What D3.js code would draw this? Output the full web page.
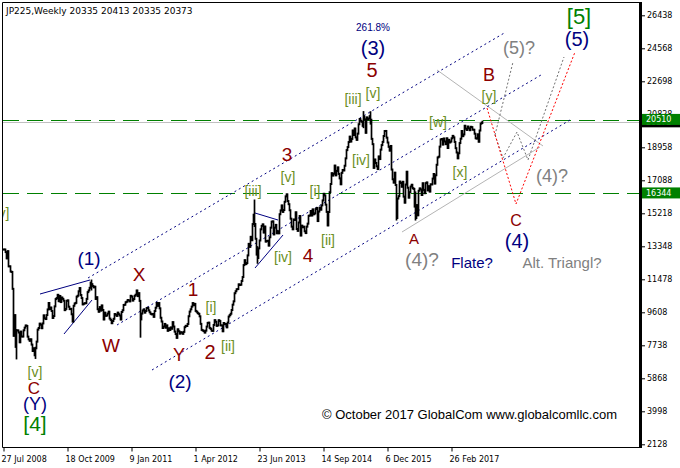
<!DOCTYPE html>
<html><head><meta charset="utf-8">
<script src="https://cdn.jsdelivr.net/npm/d3@7"></script>
<style>
html,body{margin:0;padding:0;background:#fff;}
svg{display:block;}
</style></head>
<body>
<svg id="chart" width="680" height="468"></svg>
<script>
// ---------------- DATA ----------------
const chartTitle = "JP225,Weekly  20335 20413 20335 20373";
const copyright = "\u00A9 October 2017 GlobalCom www.globalcomllc.com";
const firstWeek = "2008-07-27";
const yearStarts = ["2008-07-27","2009-01-04","2010-01-03","2011-01-02","2012-01-01","2013-01-06","2014-01-05","2015-01-04","2016-01-03","2017-01-01"];
const close2008 = [13168,13165,13020,12666,13072,12212,12214,11920,11893,10938,8276,9447,7649,8576,8583,8463,7910,8512,8236,8235,8588,8739,8860];
const close2009 = [8836,8230,8077,7994,8076,7779,7416,7568,7173,7569,7946,8627,8719,8964,8907,8707,8977,9433,9265,9225,9451,9769,10135,9786,9877,9680,9287,9396,9944,10357,10412,10597,10238,10534,10187,10444,10370,10265,9731,9800,10258,10282,9925,9789,9804,9497,9081,9977,10107,10142,10494,10546];
const close2010 = [10798,10982,10590,10414,10057,10092,10123,10126,10368,10751,10846,10996,11286,11204,11102,11023,11057,10364,10462,9784,9639,9901,9705,9995,9737,9203,9585,9408,9431,9537,9642,9253,9179,8991,9114,9239,9509,9471,9404,9588,9500,9426,9202,9625,9725,10022,10039,10178,10211,10303,10279,10229];
const close2011 = [10541,10499,10274,10360,10543,10605,10842,10526,10693,10254,9206,9536,9708,9768,9591,9683,9849,9860,9716,9607,9522,9492,9514,9351,9678,9868,10137,9974,10132,9833,9299,9086,8719,8798,8950,8737,8864,8560,8700,8606,8748,8678,9050,8801,8514,8375,8160,8643,8536,8401,8479,8455];
const close2012 = [8390,8500,8766,8841,8831,8947,9384,9647,9777,9929,10130,10011,10084,9688,9638,9561,9520,9380,8953,8612,8580,8542,8460,8569,8798,9007,9021,8724,8670,8566,8555,8891,9162,9070,8840,8871,9159,9110,8870,8863,8534,9002,8933,8946,8757,9024,9366,9446,9527,9737,10040,10230,10688];
const close2013 = [10801,10913,10926,11191,11153,11173,11385,11606,12283,12560,12338,12397,12833,13485,13316,13884,13694,14607,15138,14612,13774,12877,12686,13230,13677,14310,14506,14589,14129,14466,13615,13650,13660,13389,13860,14404,14742,14760,14024,14404,14561,14088,14201,14086,15165,15381,15662,15299,15403,15870,16178,16291];
const close2014 = [15912,15734,15391,14914,14462,14313,14865,14841,15274,14327,14224,14696,15063,13960,14516,14429,14458,14199,14097,14462,14632,15077,15097,15349,15095,15437,15164,15215,15457,15523,14778,15318,15539,15424,15668,15948,16321,16229,15708,15300,14532,15291,16413,16880,17490,17357,17459,17920,17371,17621,17818,17451];
const close2015 = [17198,16864,17511,17674,17648,17913,18332,18798,18971,19254,19560,19286,19435,19908,19653,20020,19520,19380,19733,20264,20563,20461,20407,20174,20706,20540,19780,20650,20545,20585,20724,20520,19436,19136,17793,18265,18070,17881,17725,18438,18291,18826,19083,19265,19597,19880,19884,19504,19230,18986,18770,19034];
const close2016 = [17698,17147,16958,17518,16820,14952,16054,16188,17014,16938,16724,17002,16164,15821,16848,17572,16666,16106,16412,16736,16834,16642,16601,15599,14952,15682,15106,16497,16627,16569,16254,16919,16545,16360,16925,16965,16519,16754,16449,16860,16856,17184,17446,16905,17374,17968,18381,18426,18996,19401,19427,19114];
const close2017 = [19454,19287,19138,19467,18918,19379,19235,19284,19469,19605,19522,19263,18909,18665,18335,18620,19197,19445,19883,19590,19687,20177,20013,19943,20132,20033,19929,20118,20099,19959,19952,19729,19470,19452,19691,19274,19909,20296,20356,20373];
// weeks with notable wicks beyond the close-to-close range
const wickWeeks = ["2008-10-26","2009-03-08","2010-04-04","2011-03-13","2013-05-19","2013-06-09","2015-06-21","2015-08-09","2016-02-07","2016-06-19","2017-10-01"];
const wickLows  = [6994,7021,10900,8227,14500,12415,20100,20300,14865,14864,20335];
const wickHighs = [8600,7600,11408,10000,15942,13300,20953,20946,16700,16400,20413];

const yTickValues = [26438,24568,22698,20828,18958,17088,15218,13348,11478,9608,7738,5868,3998,2128];
const xTickDates = ["2008-07-27","2009-10-18","2011-01-09","2012-04-01","2013-06-23","2014-09-14","2015-12-06","2017-02-26"];
const levelLines = [20510, 16344];
const lastPrice = 20373;

// channel lines [week, price]
const channelUpper = [[85,11552],[503,25492]];
const channelMiddle = [[114,8888],[538,23055]];
const channelLower = [[149,6338],[567,20505]];
const wedgeLines = [
  [[37,10645],[87,11438]],
  [[61,8378],[89,10305]],
  [[252,15235],[275,14838]],
  [[252,12118],[280,13988]]
];
const grayLines = [
  [[434,23339],[540,19032]],
  [[399,14158],[537,18975]]
];
const redPath = [[484,21185],[513,15745],[572,24358]];
const grayPaths = [
  [[492,19655],[510,23792]],
  [[492,19655],[500,18352],[514,19825],[525,18238],[561,24075]]
];

// labels: text, week, price, kind, size
const labelText  = ["261.8%","(3)","5","[iii]","[v]","B","[y]","(5)?","[5]","(5)","[w]","[x]","(4)?","C","(4)","A","(4)?","Flate?","Alt. Triangl?","3","[iii]","[v]","[i]","[ii]","[iv]","4","[iv]","(1)","X","W","1","[i]","Y","2","[ii]","(2)","[v]","C","(Y)","[4]","[v]"];
const labelWeek  = [370,370,369,350,370,486,486,516,576,574,435,457,549,513,514,411,419,469,559,284,250,285,312,325,280,305,358,86,136,108,190,208,176,207,225,177,32,31,32,32,-1];
const labelPrice = [25775,24585,23339,21695,22035,23055,21865,24585,26342,25095,20392,17558,17332,14838,13648,13818,12628,12458,12458,18522,16482,17275,16482,13705,12742,12855,18238,12685,11722,7755,10872,9908,7188,7358,7698,5715,6225,5318,4400,3300,15235];
const labelKind  = ["navy","navy","red","olive","olive","red","olive","gray","green","navy","olive","olive","gray","red","navy","red","gray","navy","gray","red","olive","olive","olive","olive","olive","red","olive","navy","red","red","red","olive","red","red","olive","navy","olive","red","navy","green","olive"];
const labelSize  = [10,20,20,14,14,18,14,18,22,20,14,14,18,16,20,15,19,15,15,19,14,14,14,14,14,19,14,19,19,19,19,14,18,20,14,19,14,17,18,21,14];

// ---------------- DRAW ----------------
const colors = {navy:"#000080", red:"#8b0000", olive:"#6b8e23", gray:"#808080", green:"#008000"};
const svg = d3.select("#chart");
const W = 680, H = 468;
const plot = {left:3, right:639, top:3, bottom:447};
const DAY = 864e5, WEEK = 7*DAY;
const t0 = Date.parse(firstWeek + "T00:00:00Z");
const wk = w => new Date(t0 + w*WEEK);
const x = d3.scaleUtc().domain([wk(0), wk(636)]).range([3, 639]);
const y = d3.scaleLinear().domain([2128, 26438]).range([444.3, 15.3]);

svg.append("rect").attr("width",W).attr("height",H).attr("fill","#fff");

// bars
const closes = [close2008,close2009,close2010,close2011,close2012,close2013,close2014,close2015,close2016,close2017];
const bars = [];
closes.forEach((arr, yi) => {
  const s = Date.parse(yearStarts[yi] + "T00:00:00Z");
  arr.forEach((c, i) => bars.push({date:new Date(s + i*WEEK), close:c}));
});
const wickMap = new Map(wickWeeks.map((d,i)=>[Date.parse(d+"T00:00:00Z"), i]));
bars.forEach((b,i) => {
  const prev = i>0 ? bars[i-1].close : b.close;
  b.lo = Math.min(prev, b.close); b.hi = Math.max(prev, b.close);
  const k = wickMap.get(+b.date);
  if (k !== undefined) { b.lo = Math.min(b.lo, wickLows[k]); b.hi = Math.max(b.hi, wickHighs[k]); }
});

const defs = svg.append("defs");
defs.append("clipPath").attr("id","clip").append("rect")
  .attr("x",plot.left).attr("y",plot.top).attr("width",plot.right-plot.left).attr("height",plot.bottom-plot.top);
const g = svg.append("g").attr("clip-path","url(#clip)");

// horizontal levels
g.append("line").attr("x1",plot.left).attr("x2",plot.right)
  .attr("y1",Math.round(y(lastPrice))+0.5).attr("y2",Math.round(y(lastPrice))+0.5)
  .attr("stroke","#c0c0c0").attr("stroke-width",1);
levelLines.forEach(v => {
  g.append("line").attr("x1",plot.left).attr("x2",plot.right)
    .attr("y1",Math.round(y(v))+0.5).attr("y2",Math.round(y(v))+0.5)
    .attr("stroke","#008000").attr("stroke-width",1).attr("stroke-dasharray","16,8");
});

const line = d3.line().x(d=>x(wk(d[0]))).y(d=>y(d[1]));
grayLines.forEach(l => g.append("path").attr("d",line(l)).attr("fill","none").attr("stroke","#b4b4b4").attr("stroke-width",1));
[channelUpper, channelMiddle, channelLower].forEach(l =>
  g.append("path").attr("d",line(l)).attr("fill","none").attr("stroke","#000080").attr("stroke-width",1).attr("stroke-dasharray","2,3"));
wedgeLines.forEach(l => g.append("path").attr("d",line(l)).attr("fill","none").attr("stroke","#000080").attr("stroke-width",1));
grayPaths.forEach(l => g.append("path").attr("d",line(l)).attr("fill","none").attr("stroke","#707070").attr("stroke-width",1).attr("stroke-dasharray","2,2"));
g.append("path").attr("d",line(redPath)).attr("fill","none").attr("stroke","#ff0000").attr("stroke-width",1).attr("stroke-dasharray","2,2");

// price bars
g.append("g").selectAll("line").data(bars).join("line")
  .attr("x1",d=>Math.round(x(d.date))+0.5).attr("x2",d=>Math.round(x(d.date))+0.5)
  .attr("y1",d=>y(d.hi)-1).attr("y2",d=>y(d.lo)+1)
  .attr("stroke","#000").attr("stroke-width",1.7);

// labels
g.append("g").selectAll("text").data(labelText.map((t,i)=>i)).join("text")
  .attr("x",i=>x(wk(labelWeek[i]))).attr("y",i=>y(labelPrice[i]))
  .attr("text-anchor","middle").attr("dominant-baseline","central")
  .attr("font-family","'Liberation Sans', Arial, sans-serif")
  .attr("font-size",i=>labelSize[i]+"px")
  .attr("fill",i=>colors[labelKind[i]])
  .text(i=>labelText[i]);

// copyright
svg.append("text").attr("x",322).attr("y",y(3800)).attr("dominant-baseline","central")
  .attr("font-family","'Liberation Sans', Arial, sans-serif").attr("font-size","13px").attr("fill","#000")
  .text(copyright);

// title
svg.append("text").attr("x",6).attr("y",14).attr("font-family","'DejaVu Sans', sans-serif")
  .attr("font-size","9px").attr("fill","#000").text(chartTitle);

// frame
svg.append("path").attr("d",`M${plot.right},2.5H2.5V${plot.bottom+0.5}H${plot.right}`)
  .attr("fill","none").attr("stroke","#000").attr("stroke-width",1);
svg.append("line").attr("x1",640.5).attr("x2",640.5).attr("y1",2).attr("y2",448)
  .attr("stroke","#000").attr("stroke-width",3);

// y axis
const yAxis = d3.axisRight(y).tickValues(yTickValues).tickSize(3).tickPadding(2).tickFormat(d3.format("d"));
const ya = svg.append("g").attr("transform","translate(642,0)").call(yAxis);
ya.select(".domain").remove();
ya.selectAll("text").attr("font-family","'DejaVu Sans', sans-serif").attr("font-size","8px").attr("fill","#000");

// x axis
const xAxis = d3.axisBottom(x).tickValues(xTickDates.map(d=>new Date(Date.parse(d+"T00:00:00Z"))))
  .tickSize(4).tickFormat(d3.utcFormat("%-d %b %Y"));
const xa = svg.append("g").attr("transform",`translate(0,${plot.bottom+0.5})`).call(xAxis);
xa.select(".domain").remove();
xa.selectAll(".tick line").attr("transform","translate(0.5,0)");
xa.selectAll("text").attr("font-family","'DejaVu Sans', sans-serif").attr("font-size","8px")
  .attr("fill","#000").attr("text-anchor","start").attr("dx","-2").attr("dy","0.9em");

// price tags
function tag(v, bg) {
  const cy = y(v);
  svg.append("rect").attr("x",642).attr("y",cy-6).attr("width",38).attr("height",11).attr("fill",bg);
  svg.append("text").attr("x",646).attr("y",cy).attr("dominant-baseline","central")
    .attr("font-family","'DejaVu Sans', sans-serif").attr("font-size","8px").attr("fill","#fff").text(v);
}
tag(lastPrice, "#000");
levelLines.forEach(v => tag(v, "#008000"));
</script>
</body></html>
